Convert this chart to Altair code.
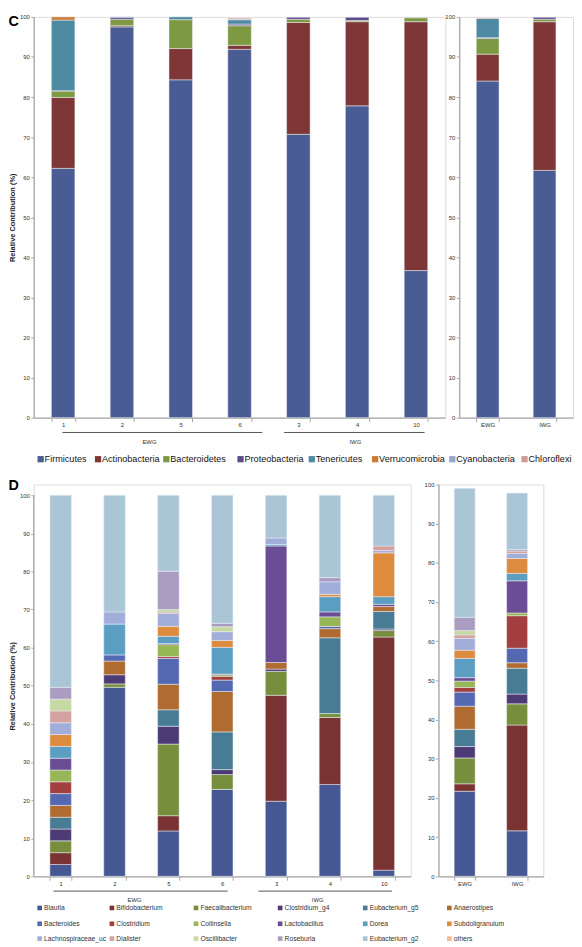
import altair as alt
import pandas as pd

# ---------------- Panel C : phylum level ----------------
c_samples = ["1", "2", "5", "6", "3", "4", "10"]
c_pooled = ["EWG", "IWG"]
c_group_names = ["EWG", "IWG"]
phyla = ["Firmicutes", "Actinobacteria", "Bacteroidetes", "Proteobacteria",
         "Tenericutes", "Verrucomicrobia", "Cyanobacteria", "Chloroflexi"]
phyla_colors = ["#4A5C94", "#7E3736", "#7D9A42", "#5E4A8A",
                "#4F8AA3", "#C97B33", "#95A6D3", "#CF9A98"]

c_firmicutes      = [62.2, 97.5, 84.3, 91.9, 70.7, 77.8, 36.7]
c_actinobacteria  = [17.7,  0.3,  7.8,  1.0, 27.9, 21.0, 62.1]
c_bacteroidetes   = [ 1.6,  1.6,  7.2,  4.9,  0.8,  0.3,  1.0]
c_proteobacteria  = [ 0.1,  0.5,  0.0,  0.4,  0.5,  0.8,  0.1]
c_tenericutes     = [17.6,  0.1,  0.7,  1.1,  0.0,  0.0,  0.0]
c_verrucomicrobia = [ 0.8,  0.0,  0.0,  0.0,  0.0,  0.0,  0.0]
c_cyanobacteria   = [ 0.0,  0.0,  0.0,  0.1,  0.0,  0.0,  0.0]
c_chloroflexi     = [ 0.0,  0.0,  0.0,  0.3,  0.0,  0.0,  0.0]

cp_firmicutes      = [84.0, 61.7]
cp_actinobacteria  = [ 6.7, 37.1]
cp_bacteroidetes   = [ 3.9,  0.6]
cp_proteobacteria  = [ 0.2,  0.5]
cp_tenericutes     = [ 4.8,  0.0]
cp_verrucomicrobia = [ 0.2,  0.0]
cp_cyanobacteria   = [ 0.0,  0.0]
cp_chloroflexi     = [ 0.1,  0.0]

# ---------------- Panel D : genus level ----------------
genera = ["Blautia", "Bifidobacterium", "Faecalibacterium", "Clostridium_g4",
          "Eubacterium_g5", "Anaerostipes", "Bacteroides", "Clostridium",
          "Collinsella", "Lactobacillus", "Dorea", "Subdoligranulum",
          "Lachnospiraceae_uc", "Dialister", "Oscillibacter", "Roseburia",
          "Eubacterium_g2", "others"]
genera_colors = ["#455894", "#7A3333", "#778F3D", "#4D3B76", "#487B94", "#B06C30",
                 "#5569B2", "#A33F3F", "#97B656", "#6A4D94", "#5C9EC1", "#DD8B3F",
                 "#A2AEDA", "#D4A2A1", "#C6D9A3", "#AB9DC2", "#AAC6D6", "#F5BB8E"]

d_blautia          = [ 3.1, 49.6, 11.9, 22.8, 19.7, 24.1,  1.6]
d_bifidobacterium  = [ 3.1,  0.0,  4.0,  0.0, 27.8, 17.6, 61.2]
d_faecalibacterium = [ 3.1,  0.9, 18.8,  3.9,  6.3,  1.0,  1.7]
d_clostridium_g4   = [ 3.1,  2.4,  4.7,  1.3,  0.6,  0.0,  0.4]
d_eubacterium_g5   = [ 3.1,  0.0,  4.3,  9.9,  0.0, 19.9,  4.6]
d_anaerostipes     = [ 3.1,  3.6,  6.7, 10.6,  1.7,  2.4,  1.3]
d_bacteroides      = [ 3.1,  1.6,  6.8,  3.0,  0.0,  0.6,  0.0]
d_clostridium      = [ 3.1,  0.0,  0.5,  1.0,  0.0,  0.0,  0.0]
d_collinsella      = [ 3.1,  0.0,  3.1,  0.4,  0.0,  2.5,  0.0]
d_lactobacillus    = [ 3.1,  0.0,  0.3,  0.2, 30.6,  1.3,  0.6]
d_dorea            = [ 3.1,  8.1,  1.9,  7.0,  0.4,  4.0,  2.0]
d_subdoligranulum  = [ 3.1,  0.0,  2.6,  1.8,  0.0,  0.6, 11.5]
d_lachnospiraceae  = [ 3.1,  3.2,  3.4,  2.3,  1.7,  3.3,  0.6]
d_dialister        = [ 3.1,  0.0,  0.4,  0.0,  0.0,  0.0,  1.2]
d_oscillibacter    = [ 3.1,  0.0,  0.6,  1.3,  0.0,  0.0,  0.0]
d_roseburia        = [ 3.1,  0.0, 10.1,  0.9,  0.0,  1.1,  0.0]
d_eubacterium_g2   = [50.4, 30.6, 19.9, 33.6, 11.2, 21.6, 13.3]
d_others           = [ 0.0,  0.0,  0.0,  0.0,  0.0,  0.0,  0.0]

dp_blautia          = [21.7, 11.6]
dp_bifidobacterium  = [ 1.9, 27.0]
dp_faecalibacterium = [ 6.6,  5.4]
dp_clostridium_g4   = [ 2.9,  2.5]
dp_eubacterium_g5   = [ 4.4,  6.6]
dp_anaerostipes     = [ 5.9,  1.4]
dp_bacteroides      = [ 3.6,  3.7]
dp_clostridium      = [ 1.2,  8.3]
dp_collinsella      = [ 1.6,  0.7]
dp_lactobacillus    = [ 0.9,  8.2]
dp_dorea            = [ 4.9,  1.9]
dp_subdoligranulum  = [ 2.1,  3.8]
dp_lachnospiraceae  = [ 3.0,  1.3]
dp_dialister        = [ 0.9,  0.6]
dp_oscillibacter    = [ 1.1,  0.0]
dp_roseburia        = [ 3.4,  0.4]
dp_eubacterium_g2   = [32.9, 14.4]
dp_others           = [ 0.0,  0.0]

c_left_series = [c_firmicutes, c_actinobacteria, c_bacteroidetes, c_proteobacteria,
                 c_tenericutes, c_verrucomicrobia, c_cyanobacteria, c_chloroflexi]
c_right_series = [cp_firmicutes, cp_actinobacteria, cp_bacteroidetes, cp_proteobacteria,
                  cp_tenericutes, cp_verrucomicrobia, cp_cyanobacteria, cp_chloroflexi]
d_left_series = [d_blautia, d_bifidobacterium, d_faecalibacterium, d_clostridium_g4,
                 d_eubacterium_g5, d_anaerostipes, d_bacteroides, d_clostridium,
                 d_collinsella, d_lactobacillus, d_dorea, d_subdoligranulum,
                 d_lachnospiraceae, d_dialister, d_oscillibacter, d_roseburia,
                 d_eubacterium_g2, d_others]
d_right_series = [dp_blautia, dp_bifidobacterium, dp_faecalibacterium, dp_clostridium_g4,
                  dp_eubacterium_g5, dp_anaerostipes, dp_bacteroides, dp_clostridium,
                  dp_collinsella, dp_lactobacillus, dp_dorea, dp_subdoligranulum,
                  dp_lachnospiraceae, dp_dialister, dp_oscillibacter, dp_roseburia,
                  dp_eubacterium_g2, dp_others]

# ---------------- layout (pixels, relative to each plot area) ----------------
C_LEFT_W, C_RIGHT_W, C_H = 416, 115, 405
D_LEFT_W, D_RIGHT_W, D_H = 381, 106, 396
D_LEFT_PLOT_H = 385
c_legend_x = [7, 65, 134, 209, 281, 345, 423, 496]
c_legend_y = 447
c_rule_x0 = [29, 253]
c_rule_x1 = [231, 395]
c_rule_y = 420
c_label_x = [117, 325]
c_label_y = 430
d_legend_cols = [6, 79, 164, 249, 335, 420]
d_legend_rows = [428, 444, 459]
d_rule_x0 = [20, 227]
d_rule_x1 = [196, 362]
d_rule_y = 411
d_label_x = [102, 287]
d_label_y = 420

FONT = "Liberation Sans, Arial, sans-serif"
GREY = "#a8a8a8"
Y_TITLE = "Relative Contribution (%)"


def long_df(cats, taxa, series):
    rows = []
    for rank, (t, vals) in enumerate(zip(taxa, series)):
        for c, v in zip(cats, vals):
            if v > 0:
                rows.append({"cat": c, "taxon": t, "rank": rank, "value": v})
    return pd.DataFrame(rows)


def y_axis(title=False, show_domain=True, title_y=None):
    kw = dict(values=list(range(0, 101, 10)), labelFontSize=6, labelColor="#333",
              labelFont=FONT, tickSize=3, tickColor=GREY, domainColor=GREY,
              domainWidth=1.3, grid=False, labelPadding=1.5, domain=show_domain,
              labelOverlap=False)
    if title:
        kw.update(titleFontSize=7.5, titleFont=FONT, titleFontWeight="bold",
                  titleColor="#222", titleX=-17.5)
        if title_y is not None:
            kw.update(titleY=title_y)
    return alt.Axis(**kw)


def bars(df, cats, taxa, colors, ymax, axis, ytitle):
    y_kw = dict(stack="zero", scale=alt.Scale(domain=[0, ymax], nice=False), axis=axis)
    y_kw["title"] = ytitle if ytitle else None
    return alt.Chart(df).mark_bar(stroke="#eef1f6", strokeWidth=0.5).encode(
        x=alt.X("cat:N", title=None,
                scale=alt.Scale(domain=cats, paddingInner=0.6, paddingOuter=0.3),
                axis=alt.Axis(labelAngle=0, labelFontSize=6, labelColor="#333",
                              labelFont=FONT, domainColor=GREY, domainWidth=1.3,
                              tickColor=GREY, tickSize=4, tickBand="extent",
                              labelPadding=0, labelOverlap=False)),
        y=alt.Y("value:Q", **y_kw),
        color=alt.Color("taxon:N", scale=alt.Scale(domain=taxa, range=colors), legend=None),
        order=alt.Order("rank:Q", sort="ascending"),
    )


def letter(txt, y):
    return alt.Chart(pd.DataFrame({"t": [txt]})).mark_text(
        align="left", baseline="alphabetic", fontSize=14.5, fontWeight="bold",
        font="Liberation Sans, Arial, sans-serif", color="#000").encode(
        text="t:N", x=alt.value(-25.5), y=alt.value(y))


def group_marks(names, x0, x1, ry, lx, ly):
    gdf = pd.DataFrame({"g": names, "x0": x0, "x1": x1, "lx": lx})
    rules = alt.Chart(gdf).mark_rule(color="#555", strokeWidth=1).encode(
        x=alt.X("x0:Q", scale=None), x2="x1:Q", y=alt.value(ry))
    labels = alt.Chart(gdf).mark_text(fontSize=6, font=FONT, color="#333",
                                      baseline="middle").encode(
        x=alt.X("lx:Q", scale=None), y=alt.value(ly), text="g:N")
    return rules + labels


# ---------------- Panel C ----------------
c_left_df = long_df(c_samples, phyla, c_left_series)
c_right_df = long_df(c_pooled, phyla, c_right_series)

c_leg_df = pd.DataFrame({"taxon": phyla, "px": c_legend_x})
c_leg_sq = alt.Chart(c_leg_df).mark_square(size=40, opacity=1).encode(
    x=alt.X("px:Q", scale=None), y=alt.value(c_legend_y),
    color=alt.Color("taxon:N", scale=alt.Scale(domain=phyla, range=phyla_colors), legend=None))
c_leg_tx = alt.Chart(c_leg_df).mark_text(align="left", baseline="middle", dx=4,
                                         fontSize=9.2, font=FONT, color="#111").encode(
    x=alt.X("px:Q", scale=None), y=alt.value(c_legend_y), text="taxon:N")

c_left = alt.layer(
    bars(c_left_df, c_samples, phyla, phyla_colors, 100, y_axis(True), Y_TITLE),
    group_marks(c_group_names, c_rule_x0, c_rule_x1, c_rule_y, c_label_x, c_label_y),
    c_leg_sq, c_leg_tx, letter("C", 9),
).properties(width=C_LEFT_W, height=C_H)

c_right = bars(c_right_df, c_pooled, phyla, phyla_colors, 100, y_axis(False), None
               ).properties(width=C_RIGHT_W, height=C_H)

c_row = alt.hconcat(c_left, c_right, spacing=14, bounds="flush")

# ---------------- Panel D ----------------
d_left_df = long_df(c_samples, genera, d_left_series)
d_right_df = long_df(c_pooled, genera, d_right_series)

d_ymax = 100.0 * D_H / D_LEFT_PLOT_H
d_yaxis = y_axis(True, show_domain=False, title_y=D_H - D_LEFT_PLOT_H / 2)
d_axis_line = alt.Chart(pd.DataFrame({"a": [0]})).mark_rule(
    color=GREY, strokeWidth=1.3).encode(
    x=alt.value(0),
    y=alt.Y(datum=0, type="quantitative", title=Y_TITLE,
            scale=alt.Scale(domain=[0, d_ymax], nice=False), axis=d_yaxis),
    y2=alt.Y2(datum=100))

d_leg_layers = []
for r, ypix in enumerate(d_legend_rows):
    names = genera[r * 6:(r + 1) * 6]
    ldf = pd.DataFrame({"taxon": names, "px": d_legend_cols[:len(names)]})
    d_leg_layers.append(alt.Chart(ldf).mark_square(size=22, opacity=1).encode(
        x=alt.X("px:Q", scale=None), y=alt.value(ypix),
        color=alt.Color("taxon:N", scale=alt.Scale(domain=genera, range=genera_colors), legend=None)))
    d_leg_layers.append(alt.Chart(ldf).mark_text(
        align="left", baseline="middle", dx=4.5, fontSize=6.8, font=FONT,
        color="#333").encode(
        x=alt.X("px:Q", scale=None), y=alt.value(ypix), text="taxon:N"))

d_left = alt.layer(
    bars(d_left_df, c_samples, genera, genera_colors, d_ymax, d_yaxis, Y_TITLE),
    d_axis_line,
    group_marks(c_group_names, d_rule_x0, d_rule_x1, d_rule_y, d_label_x, d_label_y),
    *d_leg_layers,
    letter("D", 6),
).properties(width=D_LEFT_W, height=D_H)

d_right = bars(d_right_df, c_pooled, genera, genera_colors, 100, y_axis(False), None
               ).properties(width=D_RIGHT_W, height=D_H)

d_row = alt.hconcat(d_left, d_right, spacing=28, bounds="flush")

chart = alt.vconcat(c_row, d_row, spacing=12.5).resolve_scale(
    color="independent"
).properties(
    padding={"left": 0, "top": 0, "right": 0, "bottom": 0}
).configure_view(stroke=None).configure(background="white")

chart.save("out.html", embed_options={"renderer": "svg", "actions": False})
